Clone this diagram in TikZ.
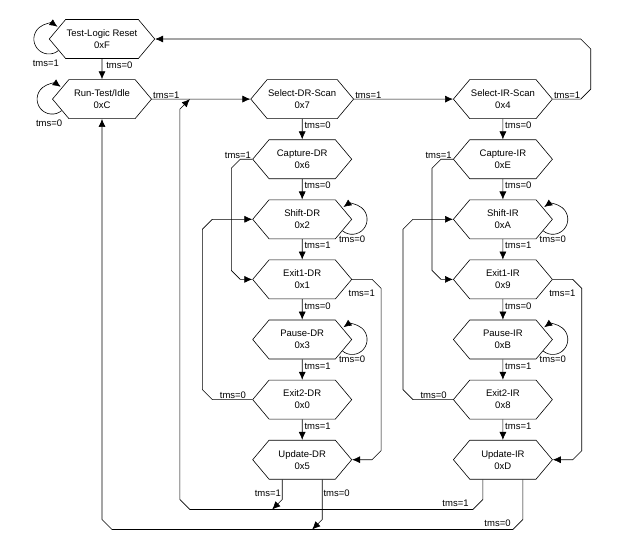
\documentclass[tikz,border=0pt]{standalone}
\usepackage{fontspec}
\setmainfont{Liberation Sans}
\usepackage{tikz}
\usetikzlibrary{positioning}
\usetikzlibrary{shapes, shapes.symbols, arrows.meta, calc}

\begin{document}
\begin{tikzpicture}[
    x=1pt, y=1pt,
    node distance = 20.5pt and 98.5pt,% for distance between states
       state/.style = {draw, shape=signal, signal to=west and east, signal pointer angle=100,
                       minimum width=99pt, minimum height=39pt, inner sep=1pt, align=center,
                       font=\fontsize{9.5}{12}\selectfont},% states style
       lbl/.style = {font=\fontsize{9.5}{11}\selectfont, inner sep=1pt},% tms labels
       dlbl/.style = {lbl, anchor=north west, xshift=1pt, yshift=-2pt},% labels under a state
       >={Latex[length=8pt,width=7pt]}, line width=0.6pt
    ]
    \useasboundingbox (0,0) rectangle (633,-541);
    % left states
    \node (tlr) [state] at (102,-39) {Test-Logic Reset\\0xF};
    \node (rti) [state, below=of tlr] {Run-Test/Idle\\0xC};
    % data register column
    \node (sdr) [state, right=of rti] {Select-DR-Scan\\0x7};
    \node (cdr) [state, below=of sdr] {Capture-DR\\0x6};
    \node (shdr) [state, below=of cdr] {Shift-DR\\0x2};
    \node (x1dr) [state, below=of shdr] {Exit1-DR\\0x1};
    \node (pdr) [state, below=of x1dr] {Pause-DR\\0x3};
    \node (x2dr) [state, below=of pdr] {Exit2-DR\\0x0};
    \node (udr) [state, below=of x2dr] {Update-DR\\0x5};
    % instruction register column
    \node (sir) [state, right=99pt of sdr] {Select-IR-Scan\\0x4};
    \node (cir) [state, below=of sir] {Capture-IR\\0xE};
    \node (shir) [state, below=of cir] {Shift-IR\\0xA};
    \node (x1ir) [state, below=of shir] {Exit1-IR\\0x9};
    \node (pir) [state, below=of x1ir] {Pause-IR\\0xB};
    \node (x2ir) [state, below=of pir] {Exit2-IR\\0x8};
    \node (uir) [state, below=of x2ir] {Update-IR\\0xD};
    % return lines
    \coordinate (m1) at ($(rti.east)+(38,0)$);
    \coordinate (bus1) at ($(udr.south)+(0,-30)$);
    \coordinate (bus0) at ($(udr.south)+(0,-50)$);

    % self loops
    \draw[->] ([shift={(-50:15pt)}]tlr.west) arc[start angle=-50, end angle=-305, radius=15pt];
    \node (l1) [lbl] at ([shift={(-3pt,-24pt)}]tlr.west) {tms=1};
    \draw[->] ([shift={(-50:15pt)}]rti.west) arc[start angle=-50, end angle=-305, radius=15pt];
    \node (l2) [lbl] at ([shift={(-3pt,-24pt)}]rti.west) {tms=0};
    \draw[->] ([shift={(-130:15pt)}]shdr.east) arc[start angle=-130, end angle=125, radius=15pt];
    \node (l3) [lbl] at ([yshift=-20pt]shdr.east) {tms=0};
    \draw[->] ([shift={(-130:15pt)}]pdr.east) arc[start angle=-130, end angle=125, radius=15pt];
    \node (l4) [lbl] at ([yshift=-20pt]pdr.east) {tms=0};
    \draw[->] ([shift={(-130:15pt)}]shir.east) arc[start angle=-130, end angle=125, radius=15pt];
    \node (l5) [lbl] at ([yshift=-20pt]shir.east) {tms=0};
    \draw[->] ([shift={(-130:15pt)}]pir.east) arc[start angle=-130, end angle=125, radius=15pt];
    \node (l6) [lbl] at ([yshift=-20pt]pir.east) {tms=0};

    % top row
    \draw[->] (tlr) -- node[dlbl, pos=0, xshift=2pt] {tms=0} (rti);
    \draw[->] (rti) -- node[lbl, anchor=base west, pos=0, yshift=1pt] {tms=1} (sdr);
    \draw[->] (sdr) -- node[lbl, anchor=base west, pos=0, yshift=1pt] {tms=1} (sir);
    \draw[->] (sir.east) node[lbl, anchor=base west, yshift=1pt] {tms=1} -- ++(28,0) -- ++(10,10)
        -- ($(sir.east |- tlr.east)+(38,-10)$) -- ++(-10,10) -- (tlr.east);

    % data register path
    \draw[->] (sdr) -- node[dlbl, pos=0] {tms=0} (cdr);
    \draw[->] (cdr) -- node[dlbl, pos=0] {tms=0} (shdr);
    \draw[->] (shdr) -- node[dlbl, pos=0] {tms=1} (x1dr);
    \draw[->] (x1dr) -- node[dlbl, pos=0] {tms=0} (pdr);
    \draw[->] (pdr) -- node[dlbl, pos=0] {tms=1} (x2dr);
    \draw[->] (x2dr) -- node[dlbl, pos=0] {tms=1} (udr);
    \draw[->] (cdr.west) node[lbl, anchor=base east, yshift=1pt] {tms=1} -- ++(-12,0) -- ++(-9,-9)
        -- ($(x1dr.west)+(-21,9)$) -- ++(9,-9) -- (x1dr.west);
    \draw[->] (x1dr.east) -- ++(20,0) -- ++(9,-9) node[lbl, anchor=north east, xshift=-5pt] {tms=1}
        -- ($(udr.east)+(29,9)$) -- ++(-9,-9) -- (udr.east);
    \draw[->] (x2dr.west) node[lbl, anchor=base east, xshift=-5pt, yshift=1pt] {tms=0} -- ++(-40,0)
        -- ++(-10,10) -- ($(shdr.west)+(-50,-10)$) -- ++(10,10) -- (shdr.west);
    \draw[->] ([xshift=-20pt]udr.south) -- node[lbl, anchor=east, pos=0.7] {tms=1} ++(0,-20) -- ++(-10,-10);
    \draw[->] ([xshift=20pt]udr.south) -- node[lbl, anchor=west, pos=0.35] {tms=0} ++(0,-40) -- ++(-10,-10);

    % instruction register path
    \draw[->] (sir) -- node[dlbl, pos=0] {tms=0} (cir);
    \draw[->] (cir) -- node[dlbl, pos=0] {tms=0} (shir);
    \draw[->] (shir) -- node[dlbl, pos=0] {tms=1} (x1ir);
    \draw[->] (x1ir) -- node[dlbl, pos=0] {tms=0} (pir);
    \draw[->] (pir) -- node[dlbl, pos=0] {tms=1} (x2ir);
    \draw[->] (x2ir) -- node[dlbl, pos=0] {tms=1} (uir);
    \draw[->] (cir.west) node[lbl, anchor=base east, yshift=1pt] {tms=1} -- ++(-12,0) -- ++(-9,-9)
        -- ($(x1ir.west)+(-21,9)$) -- ++(9,-9) -- (x1ir.west);
    \draw[->] (x1ir.east) -- ++(20,0) -- ++(9,-9) node[lbl, anchor=north east, xshift=-5pt] {tms=1}
        -- ($(uir.east)+(29,9)$) -- ++(-9,-9) -- (uir.east);
    \draw[->] (x2ir.west) node[lbl, anchor=base east, xshift=-5pt, yshift=1pt] {tms=0} -- ++(-40,0)
        -- ++(-10,10) -- ($(shir.west)+(-50,-10)$) -- ++(10,10) -- (shir.west);
    \draw[->] ([xshift=-20pt]uir.south) -- ++(0,-20) -- ++(-10,-10)
        node[lbl, anchor=base east, xshift=-3pt, yshift=3pt] {tms=1}
        -- (m1 |- bus1) -- ++(-10,10) -- ($(m1)+(-10,-10)$) -- (m1);
    \draw[->] ([xshift=20pt]uir.south) -- ++(0,-40) -- ++(-10,-10)
        node[lbl, anchor=base east, xshift=-1pt, yshift=3pt] {tms=0}
        -- ($(rti.south |- bus0)+(10,0)$) -- ++(-10,10) -- (rti.south);
\end{tikzpicture}
\end{document}
